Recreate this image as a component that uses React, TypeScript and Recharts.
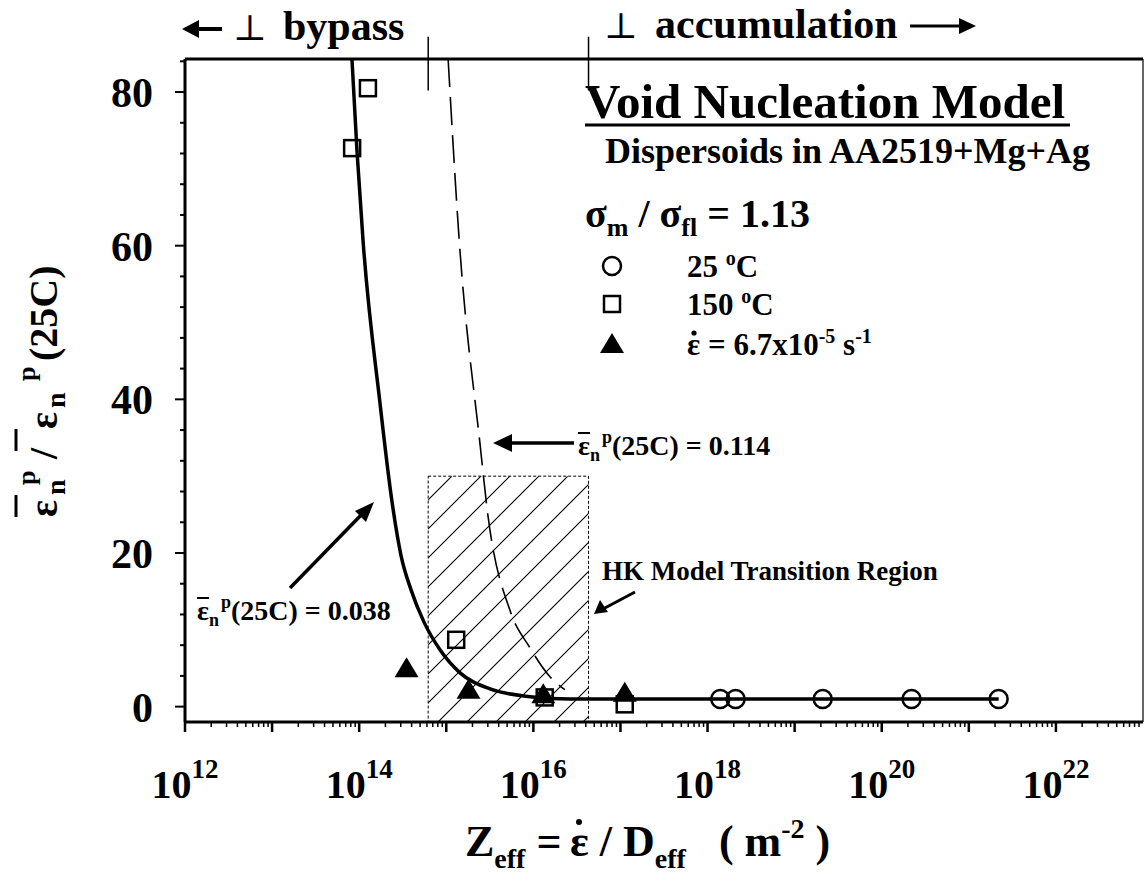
import React from "react";
import {
  ComposedChart,
  XAxis,
  YAxis,
  Line,
  Scatter,
  ReferenceArea,
  ReferenceLine,
} from "recharts";

const SERIF = '"Liberation Serif", "Times New Roman", "DejaVu Serif", serif';

// axis ticks: every decade with 2..9 minors, labels on even powers
const decades = [12, 13, 14, 15, 16, 17, 18, 19, 20, 21, 22];
const mantissas = [1, 2, 3, 4, 5, 6, 7, 8, 9];
const labelledPowers = [12, 14, 16, 18, 20, 22];
const ratioTicks = [0, 4, 8, 12, 16, 20, 24, 28, 32, 36, 40, 44, 48, 52, 56, 60, 64, 68, 72, 76, 80, 84];
const ratioLabels = [0, 20, 40, 60, 80];

const zDomain = [1e12, 1e23];
const ratioDomain = [-2, 84.3];

// 25 C tests
const rtZ = [1.4e18, 2.1e18, 2.1e19, 2.2e20, 2.2e21];
const rtRatio = [1, 1, 1, 1, 1];
// 150 C tests
const hotZ = [8.3e13, 1.26e14, 1.3e15, 1.35e16, 1.12e17];
const hotRatio = [72.7, 80.5, 8.7, 1.2, 0.3];
// slow strain rate tests
const slowZ = [3.5e14, 1.8e15, 1.3e16, 1.12e17];
const slowRatio = [5.0, 2.2, 1.6, 1.8];

// model, eps(25C) = 0.038
const modelAZ = [8.26e13, 9.44e13, 1.11e14, 1.73e14, 2.38e14, 3.02e14, 3.94e14, 5.55e14, 8.47e14, 1.44e15, 3.18e15, 9.15e15, 2.63e16, 1e17, 1e18, 1e19, 1e20, 2.2e21];
const modelARatio = [84.3, 72.3, 60.5, 39.6, 26.7, 19.7, 15.2, 11.0, 7.4, 4.4, 2.3, 1.3, 1.0, 1, 1, 1, 1, 1];
// model, eps(25C) = 0.114
const modelBZ = [1.05e15, 1.41e15, 2.45e15, 3.0e15, 5.4e15, 9.1e15, 1.55e16, 2.3e16];
const modelBRatio = [84.3, 60.6, 34, 25, 12.5, 7.7, 3.9, 2.2];

// HK transition band and the bypass / accumulation marks above the frame
const hkZ = [6.2e14, 4.3e16];
const hkTop = 30;

const zip = (xs: number[], ys: number[]) => xs.map((x, i) => ({ x, y: ys[i] }));
const xTicks = decades.flatMap((e) => mantissas.map((m) => m * 10 ** e));

const XTick = (props: any) => {
  const { x, y, payload } = props;
  const v = payload.value as number;
  const e = Math.floor(Math.log10(v) + 1e-9);
  const major = Math.round(v / 10 ** e) === 1;
  return (
    <g>
      <line x1={x} y1={y} x2={x} y2={y + (major ? 10 : 5)} stroke="#000" strokeWidth={major ? 2.5 : 1.5} />
      {major && labelledPowers.includes(e) && (
        <text x={x} y={y + 76} textAnchor="middle" fontFamily={SERIF} fontWeight="bold" fontSize={40} fill="#000">
          10
          <tspan dy={-20} fontSize={27}>
            {e}
          </tspan>
        </text>
      )}
    </g>
  );
};

const YTick = (props: any) => {
  const { x, y, payload } = props;
  const v = payload.value as number;
  const major = ratioLabels.includes(v);
  return (
    <g>
      <line x1={x} y1={y} x2={x - (major ? 10 : 5)} y2={y} stroke="#000" strokeWidth={2} />
      {major && (
        <text x={x - 32} y={y + 15} textAnchor="end" fontFamily={SERIF} fontWeight="bold" fontSize={42} fill="#000">
          {v}
        </text>
      )}
    </g>
  );
};

const CircleMark = ({ cx, cy }: any) => (
  <circle cx={cx} cy={cy} r={9} fill="none" stroke="#000" strokeWidth={2.5} />
);
const SquareMark = ({ cx, cy }: any) => (
  <rect x={cx - 8} y={cy - 8} width={16} height={16} fill="none" stroke="#000" strokeWidth={2.5} />
);
const TriMark = ({ cx, cy }: any) => (
  <path d={`M${cx},${cy - 11} L${cx + 12},${cy + 9} L${cx - 12},${cy + 9} Z`} fill="#000" />
);

const bold = { fontFamily: SERIF, fontWeight: "bold" as const, fill: "#000" };

// eps-bar with sub n / sup p, followed by the rest of the label
const EpsLabel = ({ x, y, tail }: { x: number; y: number; tail: string }) => (
  <g>
    <line x1={x} y1={y - 22} x2={x + 12} y2={y - 22} stroke="#000" strokeWidth={2} />
    <text x={x} y={y} fontSize={28} {...bold}>
      ε<tspan dy={6} fontSize={18}>n</tspan>
      <tspan dy={-18} dx={2} fontSize={18}>p</tspan>
      <tspan dy={12}>{tail}</tspan>
    </text>
  </g>
);

const Annotations = () => (
  <svg width={1145} height={888} style={{ position: "absolute", left: 0, top: 0, pointerEvents: "none" }}>
    {/* regime labels above the frame */}
    <line x1={222} y1={29} x2={194} y2={29} stroke="#000" strokeWidth={4} />
    <path d="M182,29 L199,20 L199,38 Z" fill="#000" />
    <text x={233} y={40} fontFamily={SERIF} fontSize={36} fill="#000">⊥</text>
    <text x={283} y={40} fontSize={42} {...bold}>bypass</text>
    <text x={604} y={38} fontFamily={SERIF} fontSize={36} fill="#000">⊥</text>
    <text x={655} y={38} fontSize={42} {...bold}>accumulation</text>
    <line x1={910} y1={26} x2={962} y2={26} stroke="#000" strokeWidth={3} />
    <path d="M976,26 L959,18 L959,34 Z" fill="#000" />

    {/* legend block */}
    <text x={585} y={118} fontSize={49} {...bold}>Void Nucleation Model</text>
    <line x1={585} y1={125} x2={1070} y2={125} stroke="#000" strokeWidth={3} />
    <text x={605} y={163} fontSize={36} {...bold}>Dispersoids in AA2519+Mg+Ag</text>
    <text x={585} y={227} fontSize={40} {...bold}>
      σ<tspan dy={9} fontSize={26}>m</tspan>
      <tspan dy={-9}> / σ</tspan>
      <tspan dy={9} fontSize={26}>fl</tspan>
      <tspan dy={-9}> = 1.13</tspan>
    </text>
    <circle cx={612} cy={266} r={9} fill="none" stroke="#000" strokeWidth={2.5} />
    <text x={687} y={277} fontSize={31} {...bold}>
      25 <tspan dy={-12} fontSize={20}>o</tspan>
      <tspan dy={12}>C</tspan>
    </text>
    <rect x={604} y={296} width={16} height={16} fill="none" stroke="#000" strokeWidth={2.5} />
    <text x={687} y={315} fontSize={31} {...bold}>
      150 <tspan dy={-12} fontSize={20}>o</tspan>
      <tspan dy={12}>C</tspan>
    </text>
    <path d="M612,333 L624,353 L600,353 Z" fill="#000" />
    <circle cx={694} cy={333} r={2.6} fill="#000" />
    <text x={687} y={355} fontSize={31} {...bold}>
      ε = 6.7x10<tspan dy={-12} fontSize={20}>-5</tspan>
      <tspan dy={12}>  s</tspan>
      <tspan dy={-12} fontSize={20}>-1</tspan>
    </text>

    {/* model annotations */}
    <line x1={574} y1={443} x2={505} y2={443} stroke="#000" strokeWidth={3.5} />
    <path d="M493,443 L512,434 L512,452 Z" fill="#000" />
    <EpsLabel x={578} y={455} tail="(25C) = 0.114" />
    <line x1={290} y1={588} x2={366} y2={510} stroke="#000" strokeWidth={3.5} />
    <path d="M374,502 L355,511 L366,522 Z" fill="#000" />
    <EpsLabel x={197} y={620} tail="(25C) = 0.038" />
    <text x={602} y={580} fontSize={27} {...bold}>HK Model Transition Region</text>
    <line x1={635} y1={592} x2={603} y2={609} stroke="#000" strokeWidth={3} />
    <path d="M594,614 L600,600 L608,612 Z" fill="#000" />

    {/* axis titles */}
    <g transform="translate(57,517) rotate(-90)">
      <line x1={0} y1={-41} x2={22} y2={-41} stroke="#000" strokeWidth={3} />
      <line x1={66} y1={-41} x2={88} y2={-41} stroke="#000" strokeWidth={3} />
      <text fontSize={40} {...bold}>
        <tspan x={0} y={0}>ε</tspan>
        <tspan x={22} y={8} fontSize={28}>n</tspan>
        <tspan x={32} y={-22} fontSize={26}>p</tspan>
        <tspan x={58} y={0}>/</tspan>
        <tspan x={88} y={0}>ε</tspan>
        <tspan x={109} y={8} fontSize={28}>n</tspan>
        <tspan x={136} y={-22} fontSize={26}>p</tspan>
        <tspan x={156} y={0}>(25C)</tspan>
      </text>
    </g>
    <text x={465} y={856} fontSize={44} {...bold}>
      Z<tspan dy={12} fontSize={28}>eff</tspan>
      <tspan dy={-12}>{" = "}</tspan>
    </text>
    <circle cx={579} cy={822} r={3} fill="#000" />
    <text x={570} y={856} fontSize={44} {...bold}>
      ε / D<tspan dy={12} fontSize={28}>eff</tspan>
      <tspan dy={-12}>{"\u00a0\u00a0\u00a0( m"}</tspan>
      <tspan dy={-18} fontSize={28}>-2</tspan>
      <tspan dy={18}> )</tspan>
    </text>
  </svg>
);

export default function App() {
  return (
    <div style={{ position: "absolute", left: 0, top: 0, width: 1145, height: 888, background: "#fff" }}>
      <ComposedChart
        width={1145}
        height={888}
        margin={{ top: 59, right: 2, bottom: 106, left: 125 }}
      >
        <defs>
          <pattern id="hkHatch" patternUnits="userSpaceOnUse" width={29} height={29}>
            <path d="M0,29 L29,0 M-8,8 L8,-8 M21,37 L37,21" stroke="#000" strokeWidth={1.1} />
          </pattern>
        </defs>
        <XAxis
          dataKey="x"
          type="number"
          scale="log"
          domain={zDomain}
          allowDataOverflow
          ticks={xTicks}
          interval={0}
          tickSize={0}
          tickMargin={0}
          tickLine={false}
          tick={(p: any) => <XTick {...p} />}
          axisLine={{ stroke: "#000", strokeWidth: 3 }}
          height={60}
        />
        <YAxis
          dataKey="y"
          type="number"
          domain={ratioDomain}
          allowDataOverflow
          ticks={ratioTicks}
          interval={0}
          tickSize={0}
          tickMargin={0}
          tickLine={false}
          tick={(p: any) => <YTick {...p} />}
          axisLine={{ stroke: "#000", strokeWidth: 3 }}
          width={60}
        />
        <ReferenceLine y={ratioDomain[1]} stroke="#000" strokeWidth={3} ifOverflow="visible" />
        <ReferenceLine x={zDomain[1]} stroke="#000" strokeWidth={1.2} ifOverflow="visible" />
        <ReferenceArea
          x1={hkZ[0]}
          x2={hkZ[1]}
          y1={ratioDomain[0]}
          y2={hkTop}
          fill="url(#hkHatch)"
          fillOpacity={1}
          stroke="#000"
          strokeWidth={1}
          strokeDasharray="3 2"
          ifOverflow="visible"
        />
        {hkZ.map((z) => (
          <ReferenceLine
            key={z}
            segment={[
              { x: z, y: 80.2 },
              { x: z, y: 87.2 },
            ]}
            stroke="#000"
            strokeWidth={1.5}
            ifOverflow="visible"
          />
        ))}
        <Line
          data={zip(modelBZ, modelBRatio)}
          dataKey="y"
          type="monotone"
          stroke="#000"
          strokeWidth={1.6}
          strokeDasharray="28 10"
          dot={false}
          isAnimationActive={false}
        />
        <Line
          data={zip(modelAZ, modelARatio)}
          dataKey="y"
          type="monotone"
          stroke="#000"
          strokeWidth={3.5}
          dot={false}
          isAnimationActive={false}
        />
        <Scatter data={zip(rtZ, rtRatio)} shape={(p: any) => <CircleMark {...p} />} isAnimationActive={false} />
        <Scatter data={zip(hotZ, hotRatio)} shape={(p: any) => <SquareMark {...p} />} isAnimationActive={false} />
        <Scatter data={zip(slowZ, slowRatio)} shape={(p: any) => <TriMark {...p} />} isAnimationActive={false} />
      </ComposedChart>
      <Annotations />
    </div>
  );
}
